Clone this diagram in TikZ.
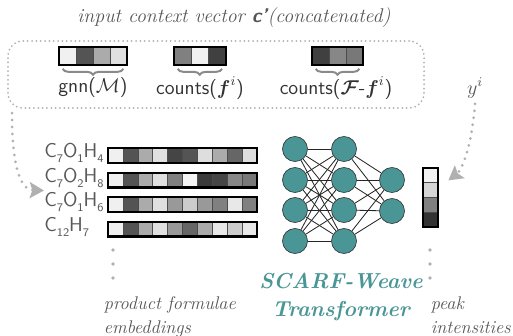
\documentclass[tikz,border=0pt]{standalone}
\usepackage{amsmath}
\usepackage{tikz}
\usetikzlibrary{positioning, fit, arrows.meta, decorations.pathreplacing}

\definecolor{notegray}{HTML}{555555}
\definecolor{dotgray}{HTML}{B0B0B0}
\definecolor{bracegray}{HTML}{8A8A8A}
\definecolor{scarfteal}{RGB}{74,150,150}

\newcommand{\lowsub}[1]{\raisebox{-0.5ex}{\scriptsize #1}}

\tikzset{
  cell/.style={rectangle, draw=black!70, line width=0.4pt, inner sep=0pt,
    minimum width=10.2pt, minimum height=10.2pt},
  ecell/.style={cell, minimum width=8.94pt, minimum height=8.4pt},
  ocell/.style={cell, minimum width=9pt, minimum height=8.85pt},
  frame/.style={draw=black, line width=1.3pt, inner sep=0pt},
  neuron/.style={circle, draw=black!80, fill=scarfteal, minimum size=15pt, inner sep=0pt},
  conn/.style={draw=black!85, line width=0.5pt},
  ctxbox/.style={draw=dotgray, rounded corners=9pt, line width=1.2pt,
    dash pattern=on 0pt off 2.6pt, line cap=round},
  flow/.style={draw=dotgray, line width=1.8pt, dash pattern=on 0pt off 4.2pt, line cap=round,
    -{Stealth[length=8.5pt, width=9.5pt, inset=1.5pt, fill=dotgray]}},
  vdots/.style={draw=dotgray, line width=2.2pt, dash pattern=on 0pt off 8.4pt, line cap=round},
  cbrace/.style={draw=bracegray, line width=1.2pt, decorate,
    decoration={brace, mirror, amplitude=3.5pt}},
  ctxlabel/.style={font=\sffamily\fontsize{12}{14}\selectfont, text=black!80},
  formula/.style={font=\sffamily\large, text=black!65, anchor=west, inner sep=0pt},
  note/.style={font=\itshape\fontsize{11}{14.4}\selectfont, text=notegray, align=left}
}

\begin{document}
\begin{tikzpicture}[x=0.6pt, y=-0.6pt]
\useasboundingbox (0,0) rectangle (513,335);

% context vector
\node[note, font=\itshape\fontsize{11.9}{14}\selectfont] (title) at (234,18) {input context vector \textsf{\textbf{c'}}(concatenated)};
\node[ctxbox, minimum width=249.6pt, minimum height=40.2pt] (ctx) at (216,74.5) {};

\foreach \g [count=\k] in {6,67,33,12}
  \node[cell, fill=black!\g] (gnn-\k) at ({59+8.5+17*(\k-1)},56) {};
\foreach \g [count=\k] in {50,6,75}
  \node[cell, fill=black!\g] (cnt-\k) at ({174+8.5+17.3*(\k-1)},56) {};
\foreach \g [count=\k] in {75,47,53}
  \node[cell, fill=black!\g] (rest-\k) at ({312+8.5+17*(\k-1)},56) {};
\node[frame, fit=(gnn-1)(gnn-4)] (gnn) {};
\node[frame, fit=(cnt-1)(cnt-3)] (cnt) {};
\node[frame, fit=(rest-1)(rest-3)] (rest) {};

\draw[cbrace] ([xshift=3pt,yshift=-1.8pt]gnn.south west) -- ([xshift=-3pt,yshift=-1.8pt]gnn.south east);
\draw[cbrace] ([xshift=3pt,yshift=-1.8pt]cnt.south west) -- ([xshift=-3pt,yshift=-1.8pt]cnt.south east);
\draw[cbrace] ([xshift=3pt,yshift=-1.8pt]rest.south west) -- ([xshift=-3pt,yshift=-1.8pt]rest.south east);

\node[ctxlabel] (gnnlab) at (93,88) {gnn($\mathcal{M}$)};
\node[ctxlabel] (cntlab) at (200,88) {counts($\boldsymbol{f}^i$)};
\node[ctxlabel] (restlab) at (336,88) {counts($\boldsymbol{\mathcal{F}}$-$\boldsymbol{f}^i$)};

\node[text=notegray, font=\large] (yi) at (475,88) {$y^i$};

% product formulae
\node[formula] (f1) at (44,153) {C\lowsub{7}O\lowsub{1}H\lowsub{4}};
\node[formula] (f2) at (44,178) {C\lowsub{7}O\lowsub{2}H\lowsub{8}};
\node[formula] (f3) at (44,202) {C\lowsub{7}O\lowsub{1}H\lowsub{6}};
\node[formula] (f4) at (44,227) {C\lowsub{12}H\lowsub{7}};

\foreach \g [count=\k] in {6,67,33,12,73,67,13,33,60,13}
  \node[ecell, fill=black!\g] (e1-\k) at ({115.5+14.9*(\k-1)},155.7) {};
\foreach \g [count=\k] in {6,67,33,12,50,4,77,73,47,53}
  \node[ecell, fill=black!\g] (e2-\k) at ({115.5+14.9*(\k-1)},180.2) {};
\foreach \g [count=\k] in {6,67,33,12,40,20,40,50,9,50}
  \node[ecell, fill=black!\g] (e3-\k) at ({115.5+14.9*(\k-1)},204.7) {};
\foreach \g [count=\k] in {6,67,33,12,40,60,33,9,20,9}
  \node[ecell, fill=black!\g] (e4-\k) at ({115.5+14.9*(\k-1)},229.2) {};
\foreach \r in {1,...,4}
  \node[frame, fit=(e\r-1)(e\r-10)] (emb\r) {};

% network
\foreach \j/\y in {1/149,2/180,3/210,4/241} {
  \node[neuron] (a\j) at (295,\y) {};
  \node[neuron] (b\j) at (344,\y) {};
}
\node[neuron] (c1) at (392,180) {};
\node[neuron] (c2) at (392,211) {};
\foreach \i in {1,...,4} {
  \foreach \j in {1,...,4}
    \draw[conn] (a\i) -- (b\j);
  \draw[conn] (b\i) -- (c1);
  \draw[conn] (b\i) -- (c2);
}

% output intensities
\foreach \g [count=\k] in {5,16,50,80}
  \node[ocell, fill=black!\g] (o\k) at (430.5,{175.4+14.75*(\k-1)}) {};
\node[frame, fit=(o1)(o4)] (out) {};

% dotted flows
\coordinate (lstart) at (12,113);
\draw[flow] (lstart) .. controls (12,172) and (22,190) .. ([yshift=-7.5pt]f2.west);
\draw[flow] (yi.south) .. controls (472,145) and (462,170) .. ([shift={(6pt,-3pt)}]o1.east);

\coordinate (d1) at (113,250);
\coordinate (d2) at (113,278);
\draw[vdots] (d1) -- (d2);
\coordinate (d3) at (430,250);
\coordinate (d4) at (430,278);
\draw[vdots] (d3) -- (d4);

% captions
\node[note, anchor=north west] (embnote) at (98,291) {product formulae\\embeddings};
\node[note, anchor=north west] (peaknote) at (425,291) {peak\\intensities};
\node[font=\bfseries\itshape\fontsize{13}{16.5}\selectfont, text=scarfteal, align=center] (model) at (341,297) {SCARF-Weave\\Transformer};
\end{tikzpicture}
\end{document}
